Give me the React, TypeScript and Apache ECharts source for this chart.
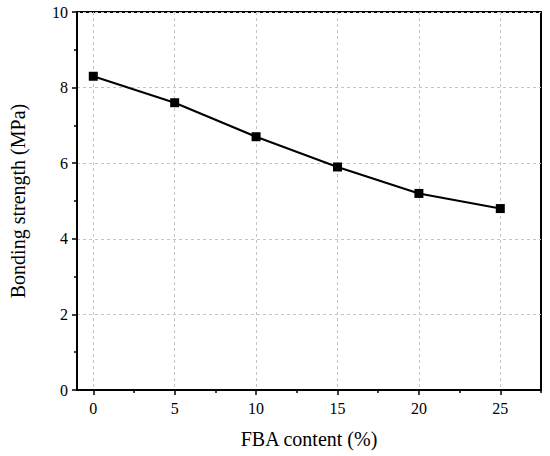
import React, { useEffect, useRef } from "react";
import * as echarts from "echarts";

const fbaContent = [0, 5, 10, 15, 20, 25];
const bondingStrength = [8.3, 7.6, 6.7, 5.9, 5.2, 4.8];
const xMajorTicks = [0, 5, 10, 15, 20, 25];
const xMinorTicks = [2.5, 7.5, 12.5, 17.5, 22.5, 27.5];

export default function App() {
  const ref = useRef<HTMLDivElement>(null);
  useEffect(() => {
    const chart = echarts.init(ref.current!, null, { renderer: "svg" });
    const font = "Liberation Serif";
    const black = "#000";
    const plainLine = { show: true, onZero: false, lineStyle: { color: black, width: 2 } };
    chart.setOption({
      animation: false,
      backgroundColor: "#fff",
      grid: { left: 72, right: 9, top: 12, bottom: 66, show: false },
      xAxis: [
        {
          type: "value",
          position: "bottom",
          min: -1,
          max: 27.5,
          name: "FBA content (%)",
          nameLocation: "middle",
          nameGap: 39,
          nameTextStyle: { fontFamily: font, fontSize: 20, color: black },
          axisLine: plainLine,
          axisTick: { show: true, customValues: xMajorTicks, length: 5, lineStyle: { color: black, width: 1.5 } },
          axisLabel: { customValues: xMajorTicks, fontFamily: font, fontSize: 16, color: black, margin: 10 },
          splitLine: { show: true, lineStyle: { color: "#c4c4c4", type: [3, 3], width: 1 } },
          z: 5,
        },
        {
          type: "value",
          position: "bottom",
          min: -1,
          max: 27.5,
          axisLine: { show: false, onZero: false },
          axisTick: { show: true, customValues: xMinorTicks, length: 3, lineStyle: { color: black, width: 1.5 } },
          axisLabel: { show: false },
          splitLine: { show: false },
        },
        {
          type: "value",
          position: "top",
          min: -1,
          max: 27.5,
          axisLine: plainLine,
          axisTick: { show: false },
          axisLabel: { show: false },
          splitLine: { show: false },
        },
      ],
      yAxis: [
        {
          type: "value",
          position: "left",
          min: 0,
          max: 10,
          interval: 2,
          name: "Bonding strength (MPa)",
          nameLocation: "middle",
          nameGap: 49,
          nameTextStyle: { fontFamily: font, fontSize: 20, color: black },
          axisLine: plainLine,
          axisTick: { show: true, length: 5, lineStyle: { color: black, width: 1.5 } },
          minorTick: { show: true, splitNumber: 2, length: 3, lineStyle: { color: black, width: 1.5 } },
          axisLabel: { fontFamily: font, fontSize: 16, color: black, margin: 9 },
          splitLine: { show: true, lineStyle: { color: "#c4c4c4", type: [3, 3], width: 1 } },
          z: 5,
        },
        {
          type: "value",
          position: "right",
          min: 0,
          max: 10,
          interval: 2,
          axisLine: plainLine,
          axisTick: { show: false },
          axisLabel: { show: false },
          splitLine: { show: false },
        },
      ],
      series: [
        {
          type: "line",
          xAxisIndex: 0,
          yAxisIndex: 0,
          data: fbaContent.map((x, i) => [x, bondingStrength[i]]),
          symbol: "rect",
          symbolSize: 9,
          lineStyle: { color: black, width: 2 },
          itemStyle: { color: black },
          z: 10,
        },
      ],
    });
    return () => chart.dispose();
  }, []);
  return <div ref={ref} style={{ width: 550, height: 456, position: "absolute", left: 0, top: 0 }} />;
}
